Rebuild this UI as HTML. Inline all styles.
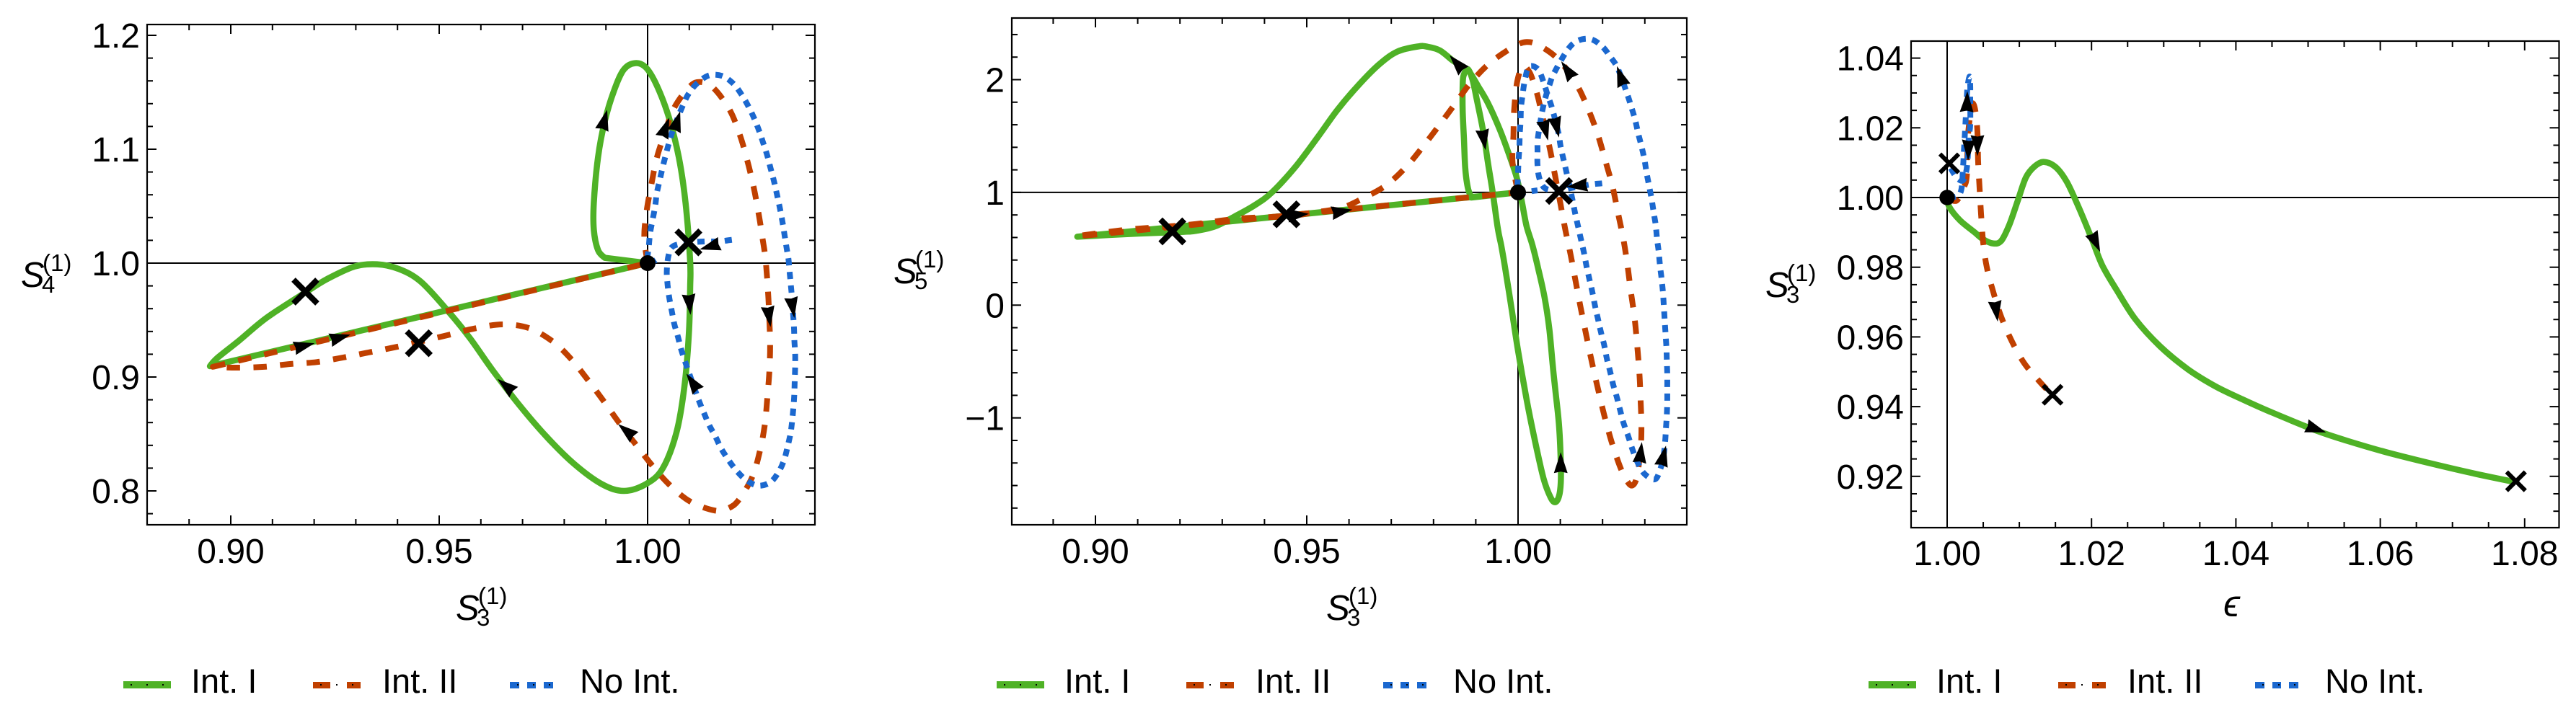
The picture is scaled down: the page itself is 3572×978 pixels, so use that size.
<!DOCTYPE html>
<html lang="en">
<head>
<meta charset="utf-8">
<title>Trajectories in S3, S4, S5 and epsilon</title>
<style>
html,body{margin:0;padding:0;background:#fff;}
svg{display:block;}
text{font-family:"Liberation Sans",Arial,sans-serif;fill:#000;}
.t{font-size:48px;}
.l{font-size:47px;}
.s{font-size:49px;font-style:italic;}
.i{font-size:33px;}
.e{font-size:52px;font-style:italic;font-family:"Liberation Sans","DejaVu Sans",sans-serif;}
</style>
</head>
<body>
<svg id="chart" xmlns="http://www.w3.org/2000/svg" width="3572" height="978" viewBox="0 0 3572 978">
<rect width="3572" height="978" fill="#fff"/>

<g>
<text class="s" x="29" y="398">S</text><text class="i" x="58" y="406">4</text><text class="i" x="59" y="376">(1)</text>
</g>
<g>
<text class="s" x="632" y="860">S</text><text class="i" x="661" y="868">3</text><text class="i" x="663" y="838">(1)</text>
</g>
<g>
<text class="s" x="1239" y="393">S</text><text class="i" x="1268" y="401">5</text><text class="i" x="1269" y="371">(1)</text>
</g>
<g>
<text class="s" x="1839" y="860">S</text><text class="i" x="1868" y="868">3</text><text class="i" x="1870" y="838">(1)</text>
</g>
<g>
<text class="s" x="2448" y="412">S</text><text class="i" x="2477" y="420">3</text><text class="i" x="2478" y="390">(1)</text>
</g>
<text class="e" x="3083" y="855">&#x3F5;</text>

<g>
  <g>
    <rect x="171" y="945" width="66" height="10" fill="#4FB226"/>
    <rect x="181" y="949" width="2" height="2" fill="#000"/><rect x="203" y="949" width="2" height="2" fill="#000"/><rect x="225" y="949" width="2" height="2" fill="#000"/>
    <text class="l" x="265" y="961">Int. I</text>
  </g>
  <g>
    <rect x="434" y="946" width="24" height="9" fill="#C04000"/><rect x="481" y="946" width="19" height="9" fill="#C04000"/>
    <rect x="444" y="949" width="2" height="2" fill="#000"/><rect x="466" y="949" width="2" height="2" fill="#000"/><rect x="488" y="949" width="2" height="2" fill="#000"/>
    <text class="l" x="530" y="961">Int. II</text>
  </g>
  <g>
    <rect x="707" y="946" width="13" height="9" fill="#1B68CF"/><rect x="731" y="946" width="12" height="9" fill="#1B68CF"/><rect x="754" y="946" width="13" height="9" fill="#1B68CF"/>
    <rect x="717" y="949" width="2" height="2" fill="#000"/><rect x="739" y="949" width="2" height="2" fill="#000"/><rect x="761" y="949" width="2" height="2" fill="#000"/>
    <text class="l" x="804" y="961">No Int.</text>
  </g>
</g>
<g transform="translate(1211,0)">
  <g>
    <rect x="171" y="945" width="66" height="10" fill="#4FB226"/>
    <rect x="181" y="949" width="2" height="2" fill="#000"/><rect x="203" y="949" width="2" height="2" fill="#000"/><rect x="225" y="949" width="2" height="2" fill="#000"/>
    <text class="l" x="265" y="961">Int. I</text>
  </g>
  <g>
    <rect x="434" y="946" width="24" height="9" fill="#C04000"/><rect x="481" y="946" width="19" height="9" fill="#C04000"/>
    <rect x="444" y="949" width="2" height="2" fill="#000"/><rect x="466" y="949" width="2" height="2" fill="#000"/><rect x="488" y="949" width="2" height="2" fill="#000"/>
    <text class="l" x="530" y="961">Int. II</text>
  </g>
  <g>
    <rect x="707" y="946" width="13" height="9" fill="#1B68CF"/><rect x="731" y="946" width="12" height="9" fill="#1B68CF"/><rect x="754" y="946" width="13" height="9" fill="#1B68CF"/>
    <rect x="717" y="949" width="2" height="2" fill="#000"/><rect x="739" y="949" width="2" height="2" fill="#000"/><rect x="761" y="949" width="2" height="2" fill="#000"/>
    <text class="l" x="804" y="961">No Int.</text>
  </g>
</g>
<g transform="translate(2420,0)">
  <g>
    <rect x="171" y="945" width="66" height="10" fill="#4FB226"/>
    <rect x="181" y="949" width="2" height="2" fill="#000"/><rect x="203" y="949" width="2" height="2" fill="#000"/><rect x="225" y="949" width="2" height="2" fill="#000"/>
    <text class="l" x="265" y="961">Int. I</text>
  </g>
  <g>
    <rect x="434" y="946" width="24" height="9" fill="#C04000"/><rect x="481" y="946" width="19" height="9" fill="#C04000"/>
    <rect x="444" y="949" width="2" height="2" fill="#000"/><rect x="466" y="949" width="2" height="2" fill="#000"/><rect x="488" y="949" width="2" height="2" fill="#000"/>
    <text class="l" x="530" y="961">Int. II</text>
  </g>
  <g>
    <rect x="707" y="946" width="13" height="9" fill="#1B68CF"/><rect x="731" y="946" width="12" height="9" fill="#1B68CF"/><rect x="754" y="946" width="13" height="9" fill="#1B68CF"/>
    <rect x="717" y="949" width="2" height="2" fill="#000"/><rect x="739" y="949" width="2" height="2" fill="#000"/><rect x="761" y="949" width="2" height="2" fill="#000"/>
    <text class="l" x="804" y="961">No Int.</text>
  </g>
</g>
</svg>

<script>
// ---------- Panel 1: S3 vs S4 ----------
const p1XTicks=[0.90,0.95,1.00];
const p1XLabels=['0.90','0.95','1.00'];
const p1YTicks=[0.8,0.9,1.0,1.1,1.2];
const p1YLabels=['0.8','0.9','1.0','1.1','1.2'];
const p1GreenX=[1,.9897,.9881,.9871,.9871,.9881,.9897,.992,.9943,.997,.9996,1.0022,1.0051,1.0075,1.0091,1.0102,1.0102,1.0099,1.0088,1.0069,1.0036,.9996,.9943,.989,.9824,.9759,.9693,.9627,.9574,.9521,.9455,.9402,.9351,.9297,.9231,.9178,.9086,.902,.8967,.895,1];
const p1GreenY=[1,1.0047,1.0115,1.0293,1.053,1.0926,1.1242,1.152,1.17,1.1756,1.1717,1.156,1.128,1.0926,1.053,1.0016,.978,.938,.891,.851,.8196,.806,.8,.806,.8236,.847,.875,.9066,.934,.958,.984,.995,.999,.997,.986,.974,.952,.932,.9165,.9095,1];
const p1RedX=[1,.9992,.9998,1.0009,1.0022,1.0041,1.0064,1.0101,1.0127,1.0159,1.0197,1.0221,1.0239,1.0254,1.0266,1.0276,1.0283,1.0289,1.0292,1.0294,1.0292,1.0287,1.0281,1.0269,1.0251,1.0219,1.0194,1.0162,1.0103,1.0052,1.001,.9972,.9934,.9895,.9856,.9816,.9771,.9715,.9652,.9585,.9526,.946,.9393,.933,.9269,.9206,.9142,.9079,.9014,.8957,1];
const p1RedY=[1,1.0232,1.0464,1.069,1.0922,1.114,1.1365,1.155,1.159,1.1534,1.1344,1.1129,1.0903,1.0675,1.0443,1.0211,1.0032,.9747,.9504,.9278,.9044,.8808,.8576,.8344,.8122,.7922,.7848,.7827,.7905,.8055,.8228,.8407,.8586,.8787,.8977,.916,.9316,.943,.9462,.9426,.9373,.9316,.9261,.9215,.9171,.9131,.9114,.9089,.9082,.9089,1];
const p1BlueX=[1.0202,1.0171,1.0138,1.0099,1.0061,1.005,1.0046,1.0048,1.0052,1.0058,1.0064,1.0073,1.0081,1.0091,1.0099,1.011,1.0123,1.0135,1.0148,1.0163,1.0177,1.0194,1.0213,1.0236,1.0265,1.0295,1.0315,1.0328,1.0336,1.0343,1.0347,1.035,1.0352,1.0353,1.0354,1.0354,1.0352,1.0351,1.0347,1.0344,1.0341,1.0338,1.0333,1.0328,1.0323,1.0317,1.031,1.0303,1.0295,1.0287,1.0277,1.0267,1.0255,1.0241,1.0225,1.0205,1.0179,1.0149,1.0122,1.0101,1.0086,1.0061,1.0052,1.0044,1.0036,1.0029,1.0022,1.0018,1.0012,1.0006,1.0003,1,1.0024];
const p1BlueY=[1.0205,1.019,1.019,1.0179,1.0148,1.0063,.9926,.981,.9694,.958,.9466,.935,.9236,.9124,.904,.8924,.8793,.8686,.8576,.8475,.8369,.8272,.8179,.8097,.8046,.8078,.8171,.8278,.8392,.8508,.8624,.874,.8857,.8973,.9089,.9209,.9325,.9441,.9663,.9795,.9909,1.0032,1.0143,1.0259,1.0373,1.0489,1.0608,1.0722,1.0833,1.0945,1.1059,1.1167,1.1276,1.1382,1.1483,1.1578,1.1643,1.165,1.1589,1.1502,1.1397,1.1171,1.1065,1.0956,1.084,1.0728,1.0612,1.0496,1.038,1.0264,1.0148,1,1.0036];
const p1CrossX=[.9179,.9451,1.0098];
const p1CrossY=[.975,.9296,1.0182];
const p1ArrowX=[.9903,1.0052,1.0078,1.0125,1.0103,1.0352,1.0295,1.0093,.9929,.964,.9287,.9201];
const p1ArrowY=[1.1346,1.1277,1.1334,1.012,.9546,.9519,.9439,.903,.8587,.8983,.9372,.9297];
const p1ArrowDeg=[-75.2,-69.5,-73.5,164,84.6,80.8,81.8,-124.6,-140.8,-140.7,-15.5,-14.2];

// ---------- Panel 2: S3 vs S5 ----------
const p2XTicks=[0.90,0.95,1.00];
const p2XLabels=['0.90','0.95','1.00'];
const p2YTicks=[-1,0,1,2];
const p2YLabels=['\u22121','0','1','2'];
const p2GreenX=[1,.9889,.9881,.9875,.9872,.9869,.9869,.9871,.9881,.9892,.9903,.9918,.9929,.994,.9952,.996,.9969,.9986,1,1.002,1.0037,1.006,1.0077,1.0088,1.0097,1.0101,1.0101,1.0097,1.0088,1.0082,1.0074,1.0063,1.0048,1.0034,1.002,1.0009,.9997,.998,.9957,.9929,.9906,.9883,.9863,.9844,.9815,.9787,.9764,.9714,.9669,.9617,.9572,.9526,.9474,.9418,.9376,.933,.9284,.9239,.9208,.9102,.8957,1];
const p2GreenY=[1,.9548,1.0443,1.2148,1.4706,1.7263,1.9395,2.0354,2.0929,2.0034,1.8116,1.5345,1.2575,1.0017,.682,.5328,.341,-.0639,-.405,-.8312,-1.1509,-1.5345,-1.705,-1.7477,-1.6944,-1.5772,-1.3853,-1.0656,-.746,-.5328,-.2131,.0639,.3197,.5328,.7033,.9165,1.1296,1.3214,1.5558,1.7903,1.9395,2.078,2.127,2.174,2.259,2.291,2.295,2.248,2.128,1.929,1.729,1.49,1.231,1.001,.884,.788,.70,.66,.65,.635,.607,1];
const p2RedX=[1,.9987,.9989,.9991,.9998,1.0011,1.0027,1.0037,1.0047,1.0061,1.0076,1.0088,1.01,1.0112,1.0125,1.0137,1.0149,1.0162,1.0175,1.0189,1.0204,1.0221,1.0242,1.0259,1.0271,1.0281,1.029,1.0292,1.029,1.0287,1.0282,1.0276,1.0267,1.0259,1.0249,1.0236,1.0223,1.0206,1.0188,1.0165,1.0138,1.0097,1.0051,1.002,.9989,.9935,.9889,.9852,.9814,.9774,.9734,.9687,.9631,.9582,.9513,.9452,.9338,.9224,.9079,.8968,.8957,1];
const p2RedY=[1,1.2639,1.5026,1.7413,1.9821,2.1206,2.0673,1.9715,1.8478,1.6198,1.3747,1.1402,.9058,.6671,.4369,.1961,-.0384,-.2771,-.5115,-.7417,-.9761,-1.2084,-1.4386,-1.5665,-1.5985,-1.5239,-1.2788,-1.0763,-.8419,-.5968,-.3623,-.1215,.1172,.3517,.5904,.8269,1.0614,1.2894,1.5196,1.7477,1.9608,2.1739,2.3018,2.3338,2.2911,2.1526,1.9778,1.7903,1.598,1.402,1.221,1.061,.944,.863,.82,.788,.767,.714,.671,.618,.61,1];
const p2BlueX=[1.0199,1.0171,1.0128,1.0097,1.0065,1.0051,1.0046,1.0046,1.0047,1.0057,1.0065,1.0074,1.0085,1.0117,1.0141,1.0172,1.0199,1.0219,1.0236,1.0258,1.0268,1.0277,1.0284,1.0292,1.0299,1.0304,1.031,1.0316,1.0321,1.0326,1.0329,1.0333,1.0336,1.034,1.0343,1.0345,1.0347,1.0349,1.0351,1.0352,1.0353,1.0353,1.0353,1.0352,1.035,1.0348,1.0344,1.0337,1.0324,1.0299,1.0283,1.0271,1.0261,1.025,1.0242,1.0234,1.0225,1.0218,1.021,1.0204,1.0196,1.0189,1.0182,1.0176,1.0169,1.0162,1.0156,1.0149,1.0142,1.0135,1.0128,1.0115,1.0108,1.0101,1.0096,1.0088,1.008,1.0069,1.006,1.0047,1.0026,1.0016,1.0011,1.0007,1.0006,1.0004,1.0003,1.0001,1,1,1.0023,1.0046];
const p2BlueY=[1.0806,1.0699,1.04,1.0166,1.0337,1.1189,1.2404,1.3598,1.4812,1.7157,1.8436,1.9501,2.0567,2.2634,2.3444,2.3593,2.2954,2.1995,2.0993,1.8755,1.7583,1.6453,1.5281,1.4109,1.2937,1.1765,1.0592,.942,.8205,.7033,.5818,.4689,.3453,.2238,.1066,-.0149,-.1343,-.2515,-.373,-.4945,-.6117,-.7353,-.8568,-.974,-1.0912,-1.2148,-1.3427,-1.4493,-1.5452,-1.4962,-1.3959,-1.283,-1.1658,-1.0507,-.9377,-.8205,-.7033,-.5904,-.4732,-.3559,-.2387,-.1215,-.0043,.1129,.228,.3453,.4646,.5818,.6991,.8163,.9484,1.1722,1.2852,1.4024,1.5196,1.6411,1.754,1.8755,1.9821,2.0929,2.1143,1.9928,1.8713,1.7519,1.6304,1.5132,1.3917,1.2745,1.1509,1,1.006,1.0188];
const p2CrossX=[.9182,.9452,1.0097];
const p2CrossY=[.654,.8056,1.0124];
const p2ArrowX=[.9838,.9923,1.0071,1.0097,1.0102,1.0234,1.0115,1.0101,1.0293,1.035,.9505,.9608];
const p2ArrowY=[2.216,1.375,1.46,1.487,2.163,2.12,1.0486,-1.304,-1.215,-1.247,.81,.848];
const p2ArrowDeg=[-131.7,80.8,75.6,77,-124.5,-109.5,173.7,-90,-83.2,-76.3,-5,-10];

// ---------- Panel 3: epsilon vs S3 ----------
const p3XTicks=[1.00,1.02,1.04,1.06,1.08];
const p3XLabels=['1.00','1.02','1.04','1.06','1.08'];
const p3YTicks=[0.92,0.94,0.96,0.98,1.00,1.02,1.04];
const p3YLabels=['0.92','0.94','0.96','0.98','1.00','1.02','1.04'];
const p3GreenX=[1,1.0003,1.0018,1.0037,1.005,1.0064,1.0075,1.0086,1.0098,1.0109,1.0121,1.01345,1.0151,1.0166,1.0182,1.02,1.0215,1.0235,1.0261,1.0295,1.0333,1.0371,1.0409,1.0447,1.0508,1.0554,1.0607,1.0668,1.0728,1.0788];
const p3GreenY=[1,.9973,.9934,.9902,.988,.9868,.9876,.9921,.9992,1.0057,1.0089,1.0102,1.0086,1.0044,.9973,.9883,.9805,.9734,.965,.9573,.9508,.9459,.9421,.9386,.9334,.9302,.927,.9238,.9209,.9183];
const p3RedX=[1,1.0013,1.0023,1.0027,1.0028,1.0029,1.0032,1.0035,1.0039,1.0042,1.0043,1.0045,1.0047,1.005,1.0055,1.0064,1.0075,1.009,1.0107,1.0128,1.0145];
const p3RedY=[1,.9991,1.0029,1.0057,1.0125,1.0181,1.0236,1.027,1.025,1.0188,1.0101,1.0026,.9953,.987,.9799,.9728,.9657,.9586,.9524,.9472,.9434];
const p3BlueX=[1.0005,1.0013,1.0021,1.0025,1.0028,1.003,1.0032,1.0032,1.0032,1.0031,1.0028,1.0026,1.0025,1.0023,1.0022,1.0018,1];
const p3BlueY=[1.0084,1.0058,1.0048,1.0063,1.0098,1.0174,1.0208,1.0284,1.0321,1.0347,1.0312,1.0236,1.0198,1.0125,1.0088,1.0012,1];
const p3CrossX=[1.0003,1.0146,1.0788];
const p3CrossY=[1.0098,.9434,.9186];
const p3ArrowX=[1.0028,1.0029,1.0042,1.0212,1.007,1.0525];
const p3ArrowY=[1.0305,1.0106,1.0119,.9844,.9644,.9326];
const p3ArrowDeg=[-88,92,90,65,82,18.6];

const NS='http://www.w3.org/2000/svg';
const svg=document.getElementById('chart');

function mk(tag,attrs,parent){
  const e=document.createElementNS(NS,tag);
  for(const k in attrs){e.setAttribute(k,attrs[k]);}
  parent.appendChild(e);
  return e;
}

function curvePath(xs,ys,sx,sy,startLine,endLine){
  const pts=xs.map((v,i)=>[sx(v),sy(ys[i])]);
  const n=pts.length;
  const lo=startLine?1:0;
  const hi=endLine?n-2:n-1;
  let d='M'+pts[0][0].toFixed(1)+' '+pts[0][1].toFixed(1);
  if(startLine){d+='L'+pts[1][0].toFixed(1)+' '+pts[1][1].toFixed(1);}
  for(let i=lo;i<hi;i++){
    const p0=pts[Math.max(i-1,lo)],p1=pts[i],p2=pts[i+1],p3=pts[Math.min(i+2,hi)];
    const c1x=p1[0]+(p2[0]-p0[0])/6,c1y=p1[1]+(p2[1]-p0[1])/6;
    const c2x=p2[0]-(p3[0]-p1[0])/6,c2y=p2[1]-(p3[1]-p1[1])/6;
    d+='C'+c1x.toFixed(1)+' '+c1y.toFixed(1)+' '+c2x.toFixed(1)+' '+c2y.toFixed(1)+' '+p2[0].toFixed(1)+' '+p2[1].toFixed(1);
  }
  if(endLine){d+='L'+pts[n-1][0].toFixed(1)+' '+pts[n-1][1].toFixed(1);}
  return d;
}

function tickLine(g,x1,y1,x2,y2,name){
  const t=mk('line',{x1:x1,y1:y1,x2:x2,y2:y2,stroke:'#000','stroke-width':2},g);
  
  
}

function drawAxes(g,c){
  const f=mk('rect',{x:c.left,y:c.top,width:c.right-c.left,height:c.bottom-c.top,fill:'none',stroke:'#000','stroke-width':2.2},g);
  
  
  const MAJ=13,MIN=8;
  for(let k=0;;k++){
    const v=c.xMinorStart+k*c.xMinorStep;
    const px=c.sx(v);
    if(px>=c.right-1){break;}
    if(px<=c.left+1){continue;}
    const major=c.xTicks.some(t=>Math.abs(t-v)<c.xMinorStep/10);
    const L=major?MAJ:MIN;
    tickLine(g,px,c.bottom,px,c.bottom-L,major?'x-major-tick':'x-minor-tick');
    tickLine(g,px,c.top,px,c.top+L,major?'x-major-tick-top':'x-minor-tick-top');
  }
  for(let k=0;;k++){
    const v=c.yMinorStart+k*c.yMinorStep;
    const py=c.sy(v);
    if(py<=c.top+1){break;}
    if(py>=c.bottom-1){continue;}
    const major=c.yTicks.some(t=>Math.abs(t-v)<c.yMinorStep/10);
    const L=major?MAJ:MIN;
    tickLine(g,c.left,py,c.left+L,py,major?'y-major-tick':'y-minor-tick');
    tickLine(g,c.right,py,c.right-L,py,major?'y-major-tick-right':'y-minor-tick-right');
  }
  c.xTicks.forEach((v,i)=>{
    const t=mk('text',{x:c.sx(v),y:c.xLabelY,'text-anchor':'middle',class:'t'},g);
    
    
    t.textContent=c.xLabels[i];
  });
  c.yTicks.forEach((v,i)=>{
    const t=mk('text',{x:c.left-10,y:c.sy(v)+17,'text-anchor':'end',class:'t'},g);
    
    
    t.textContent=c.yLabels[i];
  });
  const hz=mk('line',{x1:c.left,x2:c.right,y1:c.sy(1),y2:c.sy(1),stroke:'#000','stroke-width':2},g);
  
  
  const vt=mk('line',{x1:c.sx(1),x2:c.sx(1),y1:c.top,y2:c.bottom,stroke:'#000','stroke-width':2},g);
  
  
}

function drawSeries(g,d,color,width,dash,name){
  const p=mk('path',{d:d,fill:'none',stroke:color,'stroke-width':width,'stroke-linejoin':'round','stroke-linecap':'butt'},g);
  if(dash){p.setAttribute('stroke-dasharray',dash);}
  
  
}

function drawArrows(g,c,xs,ys,degs){
  xs.forEach((v,i)=>{
    const tx=c.sx(v),ty=c.sy(ys[i]),a=degs[i]*Math.PI/180;
    const cs=Math.cos(a),sn=Math.sin(a);
    const loc=[[0,0],[-29,9.5],[-27,0],[-29,-9.5]];
    const pts=loc.map(q=>(tx+q[0]*cs-q[1]*sn).toFixed(1)+','+(ty+q[0]*sn+q[1]*cs).toFixed(1)).join(' ');
    const t=mk('polygon',{points:pts,fill:'#000'},g);
    
    
  });
}

function drawCrosses(g,c,xs,ys,size,width){
  xs.forEach((v,i)=>{
    const cx=c.sx(v),cy=c.sy(ys[i]);
    const d='M'+(cx-size)+' '+(cy-size)+'L'+(cx+size)+' '+(cy+size)+'M'+(cx-size)+' '+(cy+size)+'L'+(cx+size)+' '+(cy-size);
    const m=mk('path',{d:d,fill:'none',stroke:'#000','stroke-width':width},g);
    
    
  });
}

function drawDot(g,c,r){
  const o=mk('circle',{cx:c.sx(1),cy:c.sy(1),r:r,fill:'#000'},g);
  
  
}

const GREEN='#4FB226',RED='#C04000',BLUE='#1B68CF';
const DASH='18.5 18.5',DOT='10 9';

// Panel 1
const g1=mk('g',{},svg);


const c1={left:204,right:1130,top:34,bottom:728,xLabelY:781,
  sx:v=>898+(v-1)*5780,sy:v=>365-(v-1)*1580,
  xTicks:p1XTicks,xLabels:p1XLabels,yTicks:p1YTicks,yLabels:p1YLabels,
  xMinorStart:0.88,xMinorStep:0.01,yMinorStart:0.76,yMinorStep:0.02};
drawAxes(g1,c1);
drawSeries(g1,curvePath(p1GreenX,p1GreenY,c1.sx,c1.sy,true,true),GREEN,8.5,null,'int-i-curve');
drawSeries(g1,curvePath(p1RedX,p1RedY,c1.sx,c1.sy,false,true),RED,8,DASH,'int-ii-curve');
drawSeries(g1,curvePath(p1BlueX,p1BlueY,c1.sx,c1.sy,false,false),BLUE,8,DOT,'no-int-curve');
drawArrows(g1,c1,p1ArrowX,p1ArrowY,p1ArrowDeg);
drawCrosses(g1,c1,p1CrossX,p1CrossY,16.5,8);
drawDot(g1,c1,11);

// Panel 2
const g2=mk('g',{},svg);


const c2={left:1403,right:2339,top:25,bottom:728,xLabelY:781,
  sx:v=>2105+(v-1)*5860,sy:v=>423.3-v*156.4,
  xTicks:p2XTicks,xLabels:p2XLabels,yTicks:p2YTicks,yLabels:p2YLabels,
  xMinorStart:0.88,xMinorStep:0.01,yMinorStart:-2,yMinorStep:0.2};
drawAxes(g2,c2);
drawSeries(g2,curvePath(p2GreenX,p2GreenY,c2.sx,c2.sy,true,true),GREEN,8.5,null,'int-i-curve');
drawSeries(g2,curvePath(p2RedX,p2RedY,c2.sx,c2.sy,false,true),RED,8,DASH,'int-ii-curve');
drawSeries(g2,curvePath(p2BlueX,p2BlueY,c2.sx,c2.sy,false,false),BLUE,8,DOT,'no-int-curve');
drawArrows(g2,c2,p2ArrowX,p2ArrowY,p2ArrowDeg);
drawCrosses(g2,c2,p2CrossX,p2CrossY,16.5,8);
drawDot(g2,c2,11);

// Panel 3
const g3=mk('g',{},svg);


const c3={left:2650,right:3548.5,top:57,bottom:732,xLabelY:784,
  sx:v=>2700+(v-1)*10010,sy:v=>274-(v-1)*4835,
  xTicks:p3XTicks,xLabels:p3XLabels,yTicks:p3YTicks,yLabels:p3YLabels,
  xMinorStart:0.995,xMinorStep:0.005,yMinorStart:0.905,yMinorStep:0.005};
drawAxes(g3,c3);
drawSeries(g3,curvePath(p3GreenX,p3GreenY,c3.sx,c3.sy,false,false),GREEN,8.5,null,'int-i-curve');
drawSeries(g3,curvePath(p3RedX,p3RedY,c3.sx,c3.sy,false,false),RED,8,DASH,'int-ii-curve');
drawSeries(g3,curvePath(p3BlueX,p3BlueY,c3.sx,c3.sy,false,false),BLUE,8,DOT,'no-int-curve');
drawArrows(g3,c3,p3ArrowX,p3ArrowY,p3ArrowDeg);
drawCrosses(g3,c3,p3CrossX,p3CrossY,13,6);
drawDot(g3,c3,10.7);
</script>
</body>
</html>
